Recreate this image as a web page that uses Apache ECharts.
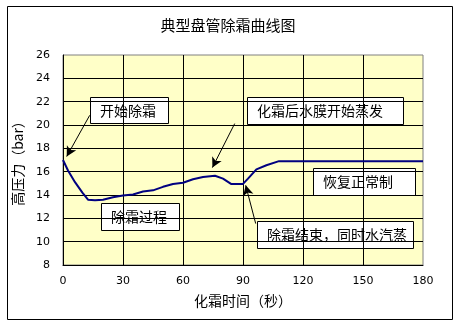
<!DOCTYPE html>
<html>
<head>
<meta charset="utf-8">
<script src="https://cdn.jsdelivr.net/npm/echarts@6/dist/echarts.min.js"></script>
<style>
  html, body { margin: 0; padding: 0; background: #fff; }
  #chart { width: 456px; height: 323px; }
</style>
</head>
<body>
<div id="chart"></div>
<script>
// Defrost curve: time in seconds vs. high-side pressure in bar
const timeSec = [0, 2.5, 6, 9.7, 12.5, 16, 20, 25, 30, 35, 40, 45, 50, 55, 60, 65, 70, 76, 80, 84, 90, 92.5, 96.7, 101.7, 108, 180];
const pressureBar = [17.0, 16.1, 15.1, 14.2, 13.6, 13.55, 13.6, 13.8, 13.95, 14.05, 14.3, 14.4, 14.7, 14.95, 15.05, 15.35, 15.55, 15.65, 15.4, 14.95, 14.95, 15.4, 16.2, 16.55, 16.9, 16.9];

const chartTitle = '典型盘管除霜曲线图';
const xName = '化霜时间（秒）';
const yName = '高压力（bar）';

// Callout texts and their arrows (tail -> head, in time/pressure units)
const calloutTexts = ['开始除霜', '化霜后水膜开始蒸发', '恢复正常制', '除霜结束，同时水汽蒸', '除霜过程'];
const arrowTails = [[13.35, 20.83], [85.85, 20.12], [96.35, 11.55]];
const arrowHeads = [[1.85, 17.3], [74.7, 16.35], [91.35, 14.83]];

const points = timeSec.map((t, i) => [t, pressureBar[i]]);

const cjk = '"Noto Sans CJK SC", "Noto Sans", sans-serif';
const num = '"DejaVu Sans", Verdana, sans-serif';

// Callout box layout (pixels)
const boxes = [
  { x: 90, y: 97, w: 78, h: 26 },
  { x: 247, y: 97, w: 156, h: 27 },
  { x: 313, y: 168, w: 102, h: 27 },
  { x: 257, y: 221, w: 156, h: 27 },
  { x: 101, y: 203, w: 78, h: 27 }
];

const graphics = [
  {
    type: 'rect', left: 5, top: 4, z: 0,
    shape: { width: 445, height: 313 },
    style: { fill: 'none', stroke: '#000', lineWidth: 1 },
    silent: true
  }
];
boxes.forEach((b, i) => {
  graphics.push({
    type: 'group', left: b.x, top: b.y, z: 100,
    children: [
      { type: 'rect', shape: { x: 0.5, y: 0.5, width: b.w, height: b.h },
        style: { fill: '#fff', stroke: '#000', lineWidth: 1 } },
      { type: 'text', x: 10, y: b.h / 2 + 0.5,
        style: { text: calloutTexts[i], fill: '#000', font: '14px ' + cjk, textVerticalAlign: 'middle' } }
    ]
  });
});

const arrowLines = arrowTails.map((tail, i) => [
  { coord: tail },
  { coord: arrowHeads[i] }
]);

const chart = echarts.init(document.getElementById('chart'), null, { renderer: 'canvas' });
chart.setOption({
  animation: false,
  backgroundColor: '#fff',
  title: {
    text: chartTitle,
    left: 'center',
    top: 13,
    textStyle: { fontFamily: cjk, fontSize: 15, fontWeight: 'normal', color: '#000' }
  },
  grid: {
    left: 63, top: 55, width: 360, height: 210,
    show: true, backgroundColor: '#FFFFC8', borderColor: '#808080', borderWidth: 1
  },
  xAxis: {
    type: 'value', min: 0, max: 180, interval: 30,
    name: xName, nameLocation: 'middle', nameGap: 29,
    nameTextStyle: { fontFamily: cjk, fontSize: 14, color: '#000' },
    axisLine: { show: true, lineStyle: { color: '#000', width: 1 } },
    axisTick: { show: false },
    axisLabel: { margin: 11, fontFamily: num, fontSize: 11, color: '#000' },
    splitLine: { show: true, showMinLine: false, showMaxLine: false, lineStyle: { color: '#000', width: 1 } }
  },
  yAxis: {
    type: 'value', min: 8, max: 26, interval: 2,
    name: yName, nameLocation: 'middle', nameGap: 34, nameRotate: 90,
    nameTextStyle: { fontFamily: cjk, fontSize: 14, color: '#000' },
    axisLine: { show: true, lineStyle: { color: '#000', width: 1 } },
    axisTick: { show: false },
    axisLabel: { margin: 13, fontFamily: num, fontSize: 11, color: '#000' },
    splitLine: { show: true, showMinLine: false, showMaxLine: false, lineStyle: { color: '#000', width: 1 } }
  },
  series: [{
    type: 'line',
    data: points,
    showSymbol: false,
    symbol: 'none',
    lineStyle: { color: '#000080', width: 2 },
    z: 5,
    markLine: {
      silent: true,
      symbol: ['none', 'arrow'],
      symbolSize: [8, 10],
      label: { show: false },
      lineStyle: { color: '#000', width: 1, type: 'solid' },
      itemStyle: { color: '#000' },
      data: arrowLines,
      z: 50
    }
  }],
  graphic: graphics
});
</script>
</body>
</html>
